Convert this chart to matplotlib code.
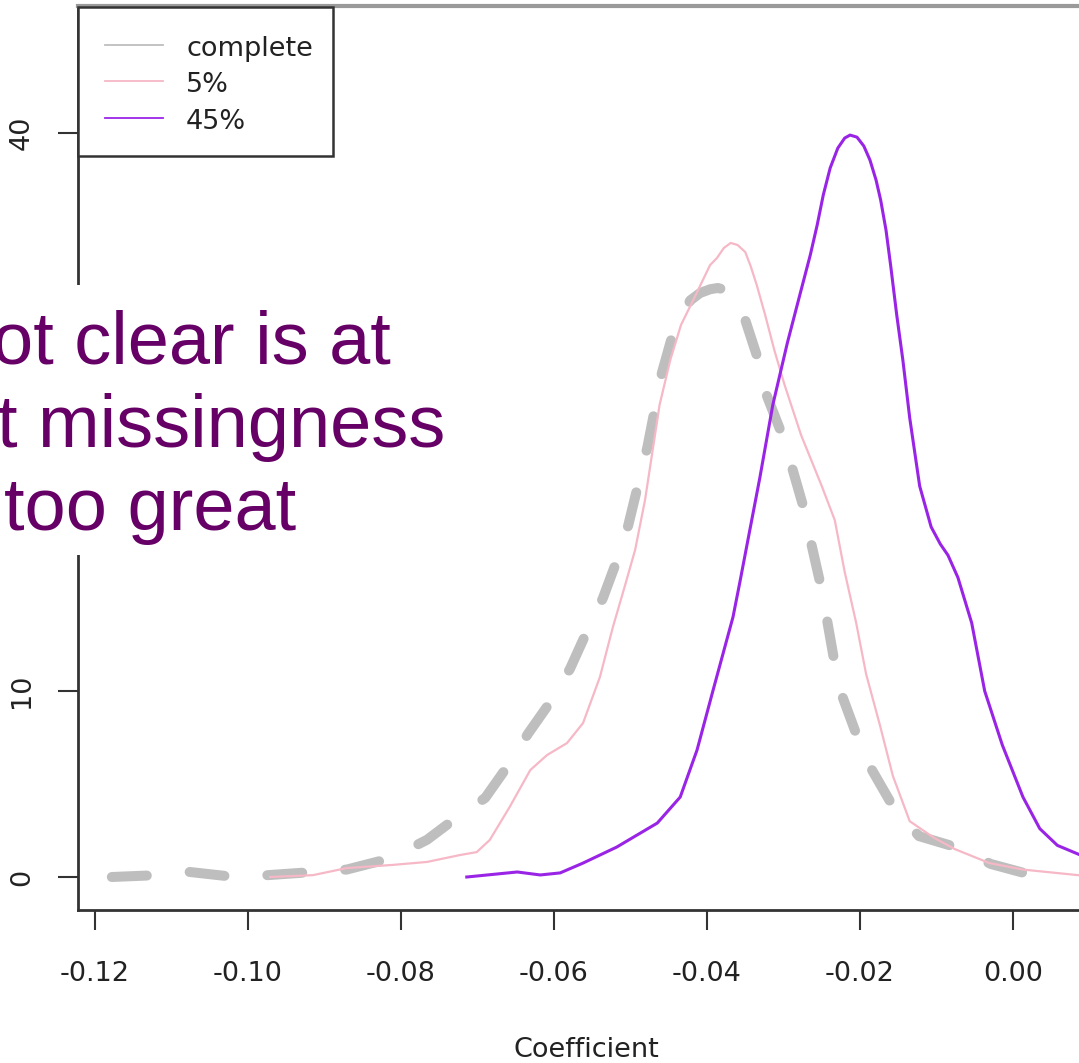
import matplotlib
matplotlib.use("Agg")
import matplotlib.pyplot as plt
from matplotlib.lines import Line2D
from matplotlib.patches import Rectangle

plt.rcParams['axes.unicode_minus'] = False
plt.rcParams['font.family'] = ['DejaVu Sans']

# ---- data ----
complete_x = [-0.1178, -0.1119, -0.1076, -0.1017, -0.0974, -0.0915, -0.0871, -0.0814,
              -0.0766, -0.0732, -0.0690, -0.0660, -0.0634, -0.0605, -0.0579, -0.0557,
              -0.0536, -0.0518, -0.0503, -0.0490, -0.0478, -0.0468, -0.0459, -0.0444,
              -0.0422, -0.0409, -0.0396, -0.0386, -0.0374, -0.0361, -0.0350, -0.0333,
              -0.0322, -0.0303, -0.0288, -0.0274, -0.0263, -0.0252, -0.0243, -0.0234,
              -0.0223, -0.0205, -0.0185, -0.0157, -0.0123, -0.0074, -0.0029, 0.0025]
complete_y = [0.0, 0.1, 0.27, 0.0, 0.1, 0.27, 0.4, 1.0,
              2.0, 3.05, 4.25, 6.0, 7.7, 9.4, 11.2, 13.2,
              15.0, 17.0, 18.9, 21.1, 23.1, 25.2, 27.1, 29.3,
              31.0, 31.4, 31.6, 31.67, 31.55, 30.9, 29.95, 27.8,
              25.9, 23.9, 21.9, 19.9, 17.8, 15.8, 13.8, 11.7,
              9.7, 7.7, 5.8, 3.8, 2.2, 1.6, 0.7, 0.1]

pct5_x = [-0.0971, -0.0915, -0.0871, -0.0811, -0.0766, -0.0723, -0.0701, -0.0684,
          -0.0658, -0.0631, -0.0609, -0.0583, -0.0562, -0.0540, -0.0523, -0.0507,
          -0.0494, -0.0481, -0.0471, -0.0462, -0.0448, -0.0434, -0.0418, -0.0396,
          -0.0387, -0.0378, -0.0369, -0.0360, -0.0350, -0.0343, -0.0335, -0.0324,
          -0.0312, -0.0299, -0.0277, -0.0250, -0.0233, -0.0220, -0.0205, -0.0192,
          -0.0174, -0.0157, -0.0135, -0.0103, -0.0076, -0.0031, 0.0013, 0.0097]
pct5_y = [0.0, 0.1, 0.48, 0.65, 0.81, 1.18, 1.34, 1.99,
          3.76, 5.75, 6.56, 7.2, 8.28, 10.75, 13.44, 15.7,
          17.58, 20.27, 22.96, 25.38, 27.8, 29.68, 31.02, 32.9,
          33.28, 33.82, 34.09, 33.98, 33.6, 32.85, 31.83, 30.22,
          28.33, 26.51, 23.76, 21.02, 19.19, 16.4, 13.66, 10.91,
          8.17, 5.43, 3.0, 2.1, 1.5, 0.75, 0.4, 0.05]

pct45_x = [-0.0714, -0.0648, -0.0618, -0.0592, -0.0562, -0.0518, -0.0465, -0.0435,
           -0.0413, -0.0392, -0.0366, -0.0357, -0.0344, -0.0331, -0.0314, -0.0295,
           -0.0278, -0.0265, -0.0256, -0.0248, -0.0239, -0.0229, -0.0220, -0.0213,
           -0.0204, -0.0195, -0.0187, -0.0179, -0.0173, -0.0166, -0.0160, -0.0152,
           -0.0144, -0.0135, -0.0122, -0.0107, -0.0095, -0.0085, -0.0072, -0.0054,
           -0.0037, -0.0014, 0.0013, 0.0035, 0.0058, 0.0087, 0.0114]
pct45_y = [0.0, 0.27, 0.11, 0.22, 0.75, 1.61, 2.9, 4.3,
           6.83, 10.05, 13.98, 15.86, 18.66, 21.45, 25.38, 28.71,
           31.4, 33.44, 35.05, 36.67, 38.12, 39.19, 39.73, 39.89,
           39.78, 39.3, 38.55, 37.47, 36.4, 34.78, 32.9, 30.22,
           27.8, 24.68, 21.02, 18.82, 17.9, 17.3, 16.1, 13.66,
           10.0, 7.1, 4.3, 2.6, 1.7, 1.2, 1.0]

series_labels = ["complete", "5%", "45%"]
x_ticks = [-0.12, -0.10, -0.08, -0.06, -0.04, -0.02, 0.00]
y_ticks = [0, 10, 20, 30, 40]
y_ticklabels = ["0", "10", "", "", "40"]   # 20 and 30 are hidden under the overlay
x_label = "Coefficient"
overlay_lines = ["ot clear is at", "t missingness", "too great"]

# ---- figure ----
W, H = 1079, 1063
fig = plt.figure(figsize=(W / 100, H / 100), dpi=100)
fig.patch.set_facecolor('white')

def fx(px):
    return px / W

def fy(py):
    return 1 - py / H

# axes box in pixel terms: left 78, right 1200 (off canvas), top 6, bottom 910
ax_left, ax_right, ax_top, ax_bottom = 78, 1200, 6, 910
ax = fig.add_axes([fx(ax_left), fy(ax_bottom), (ax_right - ax_left) / W,
                   (ax_bottom - ax_top) / H])
ax.set_facecolor('white')
ax.set_xlim(-0.122222, 0.024444)
ax.set_ylim(-1.774, 46.83)

c_gray = '#BEBEBE'
c_pink = '#F6B8C6'
c_purple = '#9A24E6'

ax.plot(complete_x, complete_y, color=c_gray, lw=7.2, dashes=(3.5, 4.3),
        solid_capstyle='round', dash_capstyle='round', zorder=2)
ax.plot(pct5_x, pct5_y, color=c_pink, lw=1.6, zorder=3)
ax.plot(pct45_x, pct45_y, color=c_purple, lw=2.2, zorder=4)

ax.set_xticks(x_ticks)
ax.set_xticklabels([f"{v:.2f}" for v in x_ticks])
ax.set_yticks(y_ticks)
ax.set_yticklabels(y_ticklabels)

for side in ['left', 'bottom']:
    ax.spines[side].set_color('#333333')
    ax.spines[side].set_linewidth(2.0)
ax.spines['top'].set_color('#9a9a9a')
ax.spines['top'].set_linewidth(3.0)
ax.spines['right'].set_color('#333333')

ax.tick_params(axis='both', direction='out', length=14.4, width=1.5,
               color='#333333', labelsize=19.5, labelcolor='#222222')
ax.tick_params(axis='x', pad=22)
ax.tick_params(axis='y', pad=16.5, labelrotation=90)
for lab in ax.get_yticklabels():
    lab.set_va('center')

fig.text(fx(586), fy(1057), x_label, ha='center', va='baseline',
         fontsize=19.5, color='#222222')

# ---- legend (R style box) ----
fig.patches.append(Rectangle((fx(78), fy(156)), fx(333) - fx(78), fy(7) - fy(156),
                             transform=fig.transFigure, facecolor='white',
                             edgecolor='#333333', lw=1.8, zorder=5))
leg_colors = [c_gray, c_pink, c_purple]
leg_rows = [45, 81, 118]
for lab, col, ry in zip(series_labels, leg_colors, leg_rows):
    fig.add_artist(Line2D([fx(105), fx(163)], [fy(ry), fy(ry)], color=col, lw=1.3,
                          transform=fig.transFigure, zorder=6))
    fig.text(fx(186), fy(ry + 11), lab, ha='left', va='baseline', fontsize=19.5,
             color='#222222', zorder=6)

# ---- white overlay box with text ----
fig.patches.append(Rectangle((fx(0), fy(555)), fx(462), fy(285) - fy(555),
                             transform=fig.transFigure, facecolor='white',
                             edgecolor='none', zorder=8))
overlay_x = [-8, -3, 4]
overlay_base = [363, 447, 530]
for txt, ox, oy in zip(overlay_lines, overlay_x, overlay_base):
    fig.text(fx(ox), fy(oy), txt, ha='left', va='baseline', fontsize=53.3,
             family='Liberation Sans', color='#660066', zorder=9)

fig.savefig('out.png', dpi=100, facecolor='white')
